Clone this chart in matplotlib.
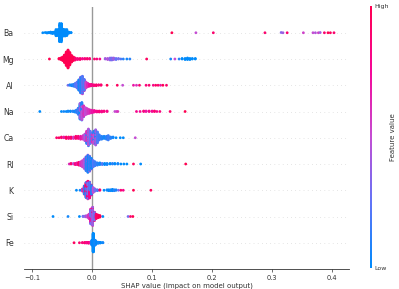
import numpy as np
import matplotlib
matplotlib.use("Agg")
import matplotlib.pyplot as plt
from matplotlib.colors import LinearSegmentedColormap, Normalize
from matplotlib.cm import ScalarMappable

# rows from bottom to top
features = ["Fe", "Si", "K", "RI", "Ca", "Na", "Al", "Mg", "Ba"]

# each feature: shap value, how many points sit there, feature value (0 low .. 1 high)
ba_shap = [-0.082, -0.078, -0.075, -0.072, -0.069, -0.066, -0.063, -0.060, -0.057, -0.054,
           -0.051, -0.048, -0.045, -0.042, -0.039, -0.035,
           0.133, 0.173, 0.202, 0.288, 0.315, 0.318, 0.325, 0.352, 0.368, 0.372, 0.377, 0.380,
           0.387, 0.393, 0.397, 0.403]
ba_n = [1, 1, 2, 2, 3, 4, 6, 10, 18, 35, 45, 30, 18, 11, 6, 2,
        1, 1, 1, 1, 1, 1, 1, 1, 1, 1, 1, 1, 1, 1, 1, 1]
ba_val = [0.0] * 16 + [1.0, 0.5, 0.9, 0.9, 0.35, 0.4, 0.9, 0.55, 0.5, 0.45, 0.55, 0.4,
                       0.9, 1.0, 0.95, 0.9]

mg_shap = [-0.071, -0.055, -0.052, -0.049, -0.046, -0.043, -0.040, -0.037, -0.034, -0.031,
           -0.028, -0.024, -0.020, -0.016, -0.012, -0.008, -0.004, 0.004, 0.008, 0.013,
           0.022, 0.026, 0.030, 0.033, 0.036, 0.040, 0.044, 0.048, 0.052, 0.058, 0.063, 0.091,
           0.131, 0.138, 0.145, 0.150, 0.155, 0.159, 0.163, 0.167, 0.172]
mg_n = [1, 2, 4, 8, 16, 28, 37, 26, 14, 8, 5, 3, 3, 2, 2, 2, 2, 1, 1, 1,
        2, 3, 5, 5, 4, 3, 2, 1, 1, 1, 1, 1,
        1, 1, 1, 2, 3, 4, 3, 2, 2]
mg_val = [1.0, 1.0, 1.0, 1.0, 1.0, 1.0, 1.0, 1.0, 1.0, 1.0, 0.9, 0.85, 0.9, 0.8, 0.85, 0.9,
          0.85, 0.9, 0.85, 0.8,
          0.4, 0.45, 0.35, 0.3, 0.4, 0.25, 0.3, 0.2, 0.1, 0.05, 0.1, 0.95,
          0.05, 0.5, 0.1, 0.0, 0.0, 0.0, 0.0, 0.0, 0.0]

al_shap = [-0.040, -0.037, -0.034, -0.031, -0.028, -0.025, -0.022, -0.022, -0.019, -0.019,
           -0.016, -0.016, -0.013, -0.013, -0.010, -0.007, -0.004, -0.001, 0.003, 0.007,
           0.011, 0.015, 0.025, 0.042, 0.051, 0.069, 0.074, 0.079,
           0.090, 0.095, 0.102, 0.106, 0.110, 0.114, 0.118, 0.124]
al_n = [1, 2, 3, 5, 8, 14, 12, 12, 20, 16, 24, 16, 16, 10, 14, 8, 5, 4, 3, 3,
        2, 2, 1, 1, 1, 1, 1, 1, 1, 1, 1, 1, 1, 1, 1, 1]
al_val = [0.3, 0.1, 0.05, 0.1, 0.2, 0.25, 0.4, 0.05, 0.5, 0.1, 0.55, 0.2, 0.6, 0.2, 0.55,
          0.65, 0.75, 0.8, 0.85, 0.9, 0.85, 0.9, 1.0, 0.95, 0.5, 0.7, 0.6, 0.9,
          0.85, 0.9, 0.8, 0.95, 0.9, 0.7, 1.0, 0.9]

na_shap = [-0.087, -0.051, -0.047, -0.043, -0.040, -0.036, -0.032, -0.029, -0.026, -0.023,
           -0.020, -0.020, -0.017, -0.017, -0.014, -0.014, -0.011, -0.008, -0.005, -0.002,
           0.001, 0.004, 0.008, 0.012, 0.016, 0.020, 0.025, 0.038, 0.041, 0.043,
           0.074, 0.080, 0.086, 0.090, 0.095, 0.100, 0.104, 0.108, 0.113, 0.130, 0.155]
na_n = [1, 1, 1, 1, 2, 2, 2, 3, 6, 14, 24, 10, 26, 12, 14, 10, 16, 12, 9, 7,
        5, 4, 3, 3, 3, 2, 2, 1, 1, 1, 1, 1, 2, 2, 2, 2, 2, 1, 1, 1, 1]
na_val = [0.0, 0.0, 0.05, 0.0, 0.05, 0.0, 0.1, 0.05, 0.1, 0.15, 0.05, 0.4, 0.1, 0.5, 0.3,
          0.6, 0.5, 0.55, 0.6, 0.65, 0.7, 0.75, 0.8, 0.85, 0.8, 0.85, 0.8, 0.5, 0.55, 0.6,
          0.8, 0.75, 0.85, 0.7, 0.8, 0.75, 0.9, 0.8, 0.85, 0.9, 1.0]

ca_shap = [-0.059, -0.055, -0.051, -0.047, -0.043, -0.039, -0.035, -0.031, -0.027, -0.023,
           -0.019, -0.015, -0.012, -0.009, -0.009, -0.006, -0.006, -0.003, 0.000, 0.000,
           0.003, 0.003, 0.006, 0.006, 0.009, 0.012, 0.016, 0.020, 0.024, 0.027, 0.031,
           0.035, 0.040, 0.047, 0.052, 0.072]
ca_n = [1, 1, 2, 2, 3, 3, 3, 3, 4, 4, 5, 6, 10, 10, 8, 14, 10, 18, 8, 5,
        10, 8, 12, 10, 16, 8, 5, 4, 5, 7, 3, 2, 1, 1, 1, 1]
ca_val = [0.9, 0.95, 0.9, 0.7, 0.95, 0.85, 0.9, 0.6, 0.9, 0.85, 0.7, 0.6, 0.45, 0.15, 0.6,
          0.1, 0.45, 0.25, 0.2, 0.6, 0.1, 0.5, 0.05, 0.4, 0.2, 0.15, 0.1, 0.05, 0.1, 0.15,
          0.1, 0.05, 0.0, 0.0, 0.0, 0.5]

ri_shap = [-0.038, -0.035, -0.031, -0.028, -0.025, -0.022, -0.019, -0.016, -0.013, -0.010,
           -0.010, -0.007, -0.007, -0.004, -0.004, -0.001, -0.001, 0.002, 0.005, 0.009,
           0.013, 0.017, 0.021, 0.025, 0.030, 0.034, 0.038, 0.043, 0.048, 0.053, 0.058,
           0.069, 0.081, 0.156]
ri_n = [1, 2, 2, 3, 4, 6, 8, 12, 18, 14, 12, 18, 14, 16, 12, 10, 10, 12, 8, 5,
        4, 3, 3, 3, 2, 2, 2, 2, 1, 1, 1, 1, 1, 1]
ri_val = [0.6, 0.9, 0.5, 0.85, 0.7, 0.9, 0.6, 0.55, 0.45, 0.5, 0.1, 0.45, 0.05, 0.4, 0.1,
          0.5, 0.05, 0.2, 0.15, 0.1, 0.05, 0.2, 0.0, 0.05, 0.0, 0.1, 0.0, 0.05, 0.0, 0.0,
          0.0, 0.95, 0.0, 1.0]

k_shap = [-0.026, -0.020, -0.016, -0.013, -0.013, -0.010, -0.010, -0.007, -0.007, -0.004,
          -0.004, -0.001, -0.001, 0.002, 0.005, 0.009, 0.013, 0.020, 0.025, 0.028, 0.031,
          0.034, 0.037, 0.040, 0.044, 0.048, 0.052, 0.069, 0.098]
k_n = [1, 1, 6, 14, 6, 26, 10, 30, 12, 28, 10, 16, 8, 12, 6, 3, 2, 1, 2, 3, 3,
       4, 3, 2, 1, 1, 1, 1, 1]
k_val = [0.0, 0.05, 0.6, 0.85, 0.1, 0.9, 0.15, 0.85, 0.3, 0.8, 0.2, 0.75, 0.1, 0.5, 0.3,
         0.2, 0.9, 0.0, 0.05, 0.0, 0.05, 0.0, 0.1, 0.05, 0.3, 0.9, 0.8, 1.0, 0.95]

si_shap = [-0.065, -0.040, -0.021, -0.015, -0.011, -0.008, -0.005, -0.002, -0.002, 0.001,
           0.001, 0.004, 0.004, 0.007, 0.010, 0.013, 0.018, 0.060, 0.064, 0.068]
si_n = [1, 1, 1, 2, 4, 6, 16, 30, 23, 36, 28, 20, 10, 16, 10, 6, 1, 1, 1, 1]
si_val = [0.0, 0.05, 0.0, 0.3, 0.4, 0.5, 0.6, 0.7, 0.3, 0.85, 0.4, 0.9, 0.3, 0.9, 0.95,
          1.0, 0.0, 0.3, 0.9, 1.0]

fe_shap = [-0.030, -0.021, -0.016, -0.012, -0.009, -0.006, -0.003, 0.000, 0.002, 0.005,
           0.008, 0.011, 0.014, 0.018]
fe_n = [1, 1, 2, 3, 4, 5, 6, 30, 112, 30, 8, 6, 4, 2]
fe_val = [0.95, 0.9, 0.85, 0.9, 0.8, 0.85, 0.7, 0.05, 0.0, 0.05, 0.0, 0.05, 0.0, 0.05]

rows = [(fe_shap, fe_n, fe_val), (si_shap, si_n, si_val), (k_shap, k_n, k_val),
        (ri_shap, ri_n, ri_val), (ca_shap, ca_n, ca_val), (na_shap, na_n, na_val),
        (al_shap, al_n, al_val), (mg_shap, mg_n, mg_val), (ba_shap, ba_n, ba_val)]

# shap-like red/blue colour map
red_blue = LinearSegmentedColormap.from_list(
    "red_blue", ["#008bfb", "#6374f7", "#c44ed3", "#f50899", "#ff0051"])


def swarm_offsets(shaps, row_height=0.4, nbins=100):
    # stack points of the same bin above/below the row, like shap's beeswarm
    n = len(shaps)
    quant = np.round(nbins * (shaps - shaps.min()) / (shaps.max() - shaps.min() + 1e-8))
    mix = (np.arange(n) * 61) % 97
    inds = np.lexsort((mix, quant))
    ys = np.zeros(n)
    layer = 0
    last_bin = -1
    for ind in inds:
        if quant[ind] != last_bin:
            layer = 0
        ys[ind] = np.ceil(layer / 2) * ((layer % 2) * 2 - 1)
        layer += 1
        last_bin = quant[ind]
    ys *= 0.9 * (row_height / np.max(ys + 1))
    return ys


fig = plt.figure(figsize=(3.99, 2.89), dpi=100)
ax = fig.add_axes([0.0602, 0.0692, 0.8145, 0.9083])

ax.axvline(x=0, color="#999999", lw=1, zorder=-1)
for pos, (sv, cnt, fv) in enumerate(rows):
    ax.axhline(y=pos, color="#cccccc", lw=0.5, dashes=(1, 5), zorder=-1)
    shaps = np.repeat(np.array(sv, dtype=float), cnt)
    vals = np.repeat(np.array(fv, dtype=float), cnt)
    ys = swarm_offsets(shaps)
    ax.scatter(shaps, pos + ys, c=vals, cmap=red_blue, vmin=0, vmax=1, s=4,
               linewidth=0, alpha=1, zorder=3)

ax.set_xlim(-0.1133, 0.428)
ax.set_ylim(-1, len(features))
ax.set_yticks(range(len(features)))
ax.set_yticklabels(features, fontsize=5.6, color="#333333")
ax.yaxis.set_ticks_position("none")
ax.tick_params(axis="y", pad=4)
ax.set_xticks([-0.1, 0.0, 0.1, 0.2, 0.3, 0.4])
ax.tick_params(axis="x", labelsize=4.8, length=2.5, width=0.5, pad=1.5,
               color="#333333", labelcolor="#333333")
for side in ["right", "top", "left"]:
    ax.spines[side].set_visible(False)
ax.spines["bottom"].set_color("#333333")
ax.spines["bottom"].set_linewidth(0.6)
ax.set_xlabel("SHAP value (impact on model output)", fontsize=5.0, labelpad=1.5,
              color="#333333")

cax = fig.add_axes([0.927, 0.073, 0.0065, 0.906])
m = ScalarMappable(norm=Normalize(0, 1), cmap=red_blue)
cb = fig.colorbar(m, cax=cax, ticks=[0, 1])
cb.set_ticklabels(["Low", "High"])
cb.ax.tick_params(labelsize=4.5, length=0, pad=1.5, labelcolor="#333333")
cb.set_label("Feature value", size=5, labelpad=1, color="#333333")
cb.outline.set_visible(False)

fig.savefig("out.png", dpi=100)
